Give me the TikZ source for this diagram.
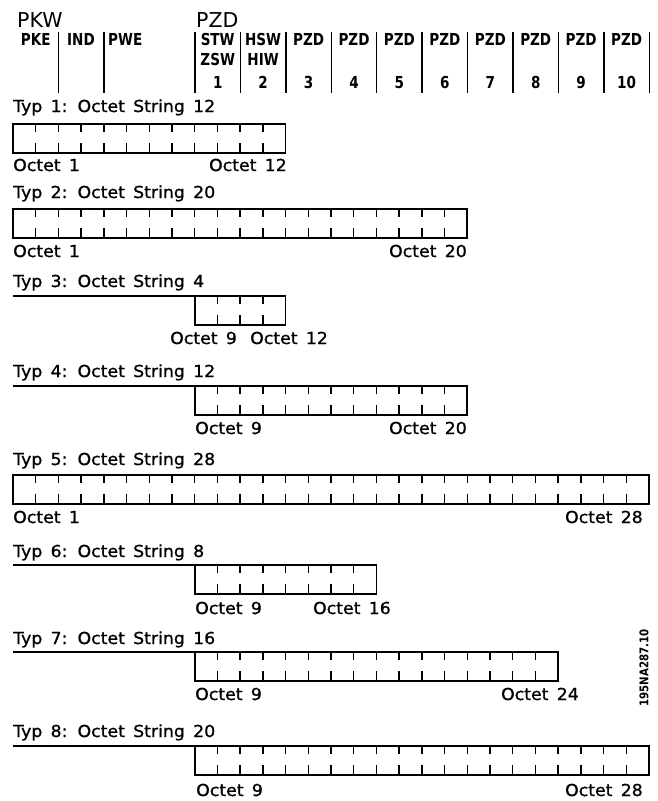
\documentclass[tikz,border=0pt]{standalone}
\usepackage{fontspec}
\setmainfont{DejaVu Sans}
\newfontfamily\rowfont[FakeStretch=1.05, WordSpace=1.5, FakeBold=1]{DejaVu Sans}
\newfontfamily\hdfont[FakeStretch=0.82]{DejaVu Sans}
\newfontfamily\idfont[FakeStretch=0.85]{DejaVu Sans}

\begin{document}
\begin{tikzpicture}[x=1pt, y=-1pt,
    cellbox/.style={line width=1.6pt},
    celltick/.style={line width=1.3pt},
    colsep/.style={line width=1.4pt},
    typ/.style={font=\rowfont\fontsize{16.5}{18}\selectfont, anchor=base west, inner sep=0pt},
    octet/.style={typ},
    octetr/.style={typ, anchor=base east},
    grp/.style={font=\fontsize{20.5}{22}\selectfont, anchor=base west, inner sep=0pt},
    hd/.style={font=\hdfont\bfseries\fontsize{16.5}{18}\selectfont, anchor=base, inner sep=0pt},
]
    \useasboundingbox (0,0) rectangle (658,801);

    % Header: PKW / PZD
    \node[grp] (pkw) at (17,27) {PKW};
    \node[grp] (pzd) at (196,27) {PZD};
    \foreach \x in {58.4,103.8}
        \draw[colsep] (\x,32) -- (\x,93);
    \foreach \k in {0,...,10}
        \draw[colsep] (195+\k*45.43,32) -- (195+\k*45.43,93);

    \node[hd] (pke) at (35.7,45) {PKE};
    \node[hd] (ind) at (81,45) {IND};
    \node[hd, anchor=base west] (pwe) at (108,45) {PWE};
    \node[hd] (stw) at (217.7,45) {STW};
    \node[hd] (zsw) at (217.7,65) {ZSW};
    \node[hd] (hsw) at (263.1,45) {HSW};
    \node[hd] (hiw) at (263.1,65) {HIW};
    \foreach \k in {3,...,10}
        \node[hd] (pzd\k) at (195+\k*45.43-22.7,45) {PZD};
    \foreach \k in {1,...,10}
        \node[hd] (nr\k) at (195+\k*45.43-22.7,88) {\k};

    % Octet boxes: top / first octet / count
    \foreach \top/\first/\n in {124/1/12, 209/1/20, 296/9/4, 386/9/12,
                                475/1/28, 565/9/8, 652/9/16, 746/9/20} {
        \pgfmathsetmacro\xl{13+(\first-1)*22.714}
        \pgfmathsetmacro\xr{\xl+\n*22.714}
        \pgfmathtruncatemacro\m{\n-1}
        \ifnum\first>1
            \draw[cellbox] (13,\top) -- (\xl,\top);
        \fi
        \draw[cellbox] (\xl,\top) rectangle (\xr,\top+29);
        \foreach \k in {1,...,\m} {
            \draw[celltick] (\xl+\k*22.714,\top) -- ++(0,8);
            \draw[celltick] (\xl+\k*22.714,\top+29) -- ++(0,-10);
        }
    }

    % Typ 1
    \node[typ] (typ1) at (13,112) {Typ 1: Octet String 12};
    \node[octet] (lo1) at (13,171) {Octet 1};
    \node[octetr] (hi1) at (287,171) {Octet 12};

    % Typ 2
    \node[typ] (typ2) at (13,198) {Typ 2: Octet String 20};
    \node[octet] (lo2) at (13,257) {Octet 1};
    \node[octetr] (hi2) at (467,257) {Octet 20};

    % Typ 3
    \node[typ] (typ3) at (13,287) {Typ 3: Octet String 4};
    \node[octet] (lo3) at (170,344) {Octet 9};
    \node[octet] (hi3) at (250,344) {Octet 12};

    % Typ 4
    \node[typ] (typ4) at (13,377) {Typ 4: Octet String 12};
    \node[octet] (lo4) at (195,434) {Octet 9};
    \node[octetr] (hi4) at (467,434) {Octet 20};

    % Typ 5
    \node[typ] (typ5) at (13,465) {Typ 5: Octet String 28};
    \node[octet] (lo5) at (13,523) {Octet 1};
    \node[octetr] (hi5) at (643,523) {Octet 28};

    % Typ 6
    \node[typ] (typ6) at (13,557) {Typ 6: Octet String 8};
    \node[octet] (lo6) at (195,614) {Octet 9};
    \node[octetr] (hi6) at (391,614) {Octet 16};

    % Typ 7
    \node[typ] (typ7) at (13,644) {Typ 7: Octet String 16};
    \node[octet] (lo7) at (195,700) {Octet 9};
    \node[octetr] (hi7) at (579,700) {Octet 24};

    % Typ 8
    \node[typ] (typ8) at (13,737) {Typ 8: Octet String 20};
    \node[octet] (lo8) at (196,796) {Octet 9};
    \node[octetr] (hi8) at (643,796) {Octet 28};

    % Drawing number
    \node[font=\idfont\bfseries\fontsize{12}{12}\selectfont, rotate=90, inner sep=0pt]
        (docid) at (644,668) {195NA287.10};
\end{tikzpicture}
\end{document}
